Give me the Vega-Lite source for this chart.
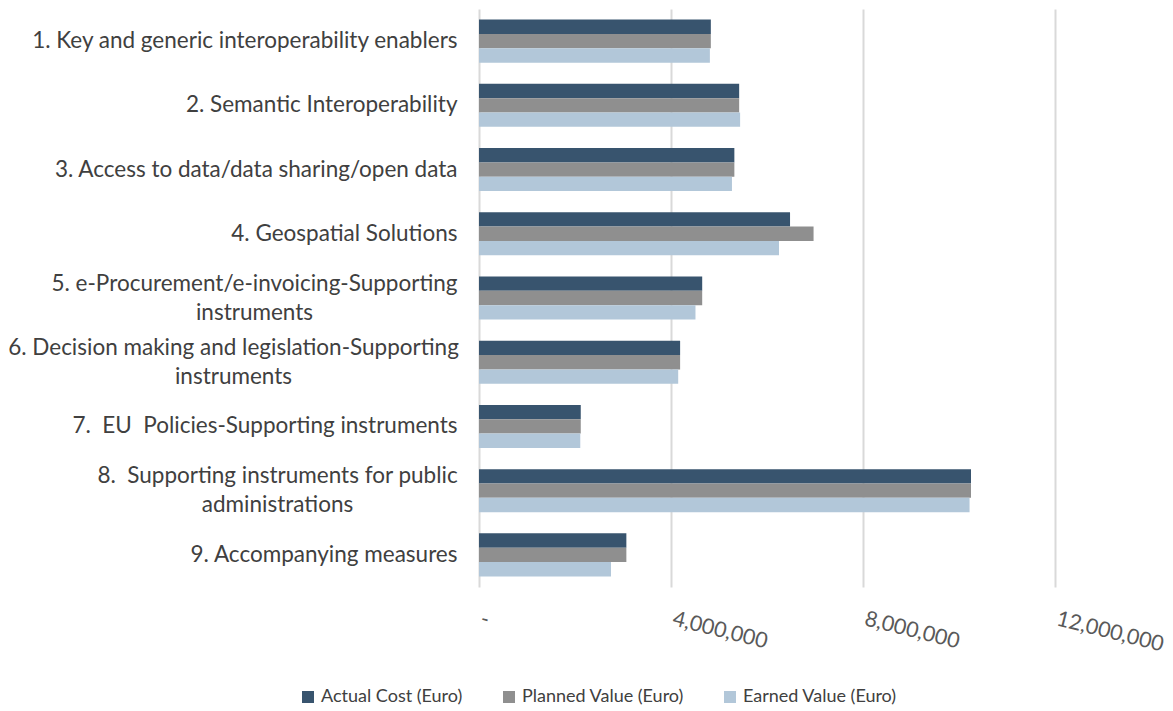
{
  "$schema": "https://vega.github.io/schema/vega-lite/v6.json",
  "width": 576,
  "height": 578,
  "autosize": {"type": "none"},
  "padding": {"left": 479, "top": 9, "right": 118, "bottom": 124},
  "background": "white",
  "config": {
    "view": {"stroke": null},
    "font": "Lato"
  },
  "data": {
    "values": [
      {"cat": "1. Key and generic interoperability enablers", "series": "Actual Cost (Euro)", "value": 4830000},
      {"cat": "1. Key and generic interoperability enablers", "series": "Planned Value (Euro)", "value": 4830000},
      {"cat": "1. Key and generic interoperability enablers", "series": "Earned Value (Euro)", "value": 4810000},
      {"cat": "2. Semantic Interoperability", "series": "Actual Cost (Euro)", "value": 5420000},
      {"cat": "2. Semantic Interoperability", "series": "Planned Value (Euro)", "value": 5420000},
      {"cat": "2. Semantic Interoperability", "series": "Earned Value (Euro)", "value": 5440000},
      {"cat": "3. Access to data/data sharing/open data", "series": "Actual Cost (Euro)", "value": 5320000},
      {"cat": "3. Access to data/data sharing/open data", "series": "Planned Value (Euro)", "value": 5320000},
      {"cat": "3. Access to data/data sharing/open data", "series": "Earned Value (Euro)", "value": 5270000},
      {"cat": "4. Geospatial Solutions", "series": "Actual Cost (Euro)", "value": 6480000},
      {"cat": "4. Geospatial Solutions", "series": "Planned Value (Euro)", "value": 6970000},
      {"cat": "4. Geospatial Solutions", "series": "Earned Value (Euro)", "value": 6250000},
      {"cat": "5. e-Procurement/e-invoicing-Supporting|instruments", "series": "Actual Cost (Euro)", "value": 4650000},
      {"cat": "5. e-Procurement/e-invoicing-Supporting|instruments", "series": "Planned Value (Euro)", "value": 4650000},
      {"cat": "5. e-Procurement/e-invoicing-Supporting|instruments", "series": "Earned Value (Euro)", "value": 4510000},
      {"cat": "6. Decision making and legislation-Supporting|instruments", "series": "Actual Cost (Euro)", "value": 4190000},
      {"cat": "6. Decision making and legislation-Supporting|instruments", "series": "Planned Value (Euro)", "value": 4190000},
      {"cat": "6. Decision making and legislation-Supporting|instruments", "series": "Earned Value (Euro)", "value": 4150000},
      {"cat": "7.\u00a0 EU\u00a0 Policies-Supporting instruments", "series": "Actual Cost (Euro)", "value": 2120000},
      {"cat": "7.\u00a0 EU\u00a0 Policies-Supporting instruments", "series": "Planned Value (Euro)", "value": 2120000},
      {"cat": "7.\u00a0 EU\u00a0 Policies-Supporting instruments", "series": "Earned Value (Euro)", "value": 2110000},
      {"cat": "8.\u00a0 Supporting instruments for public|administrations", "series": "Actual Cost (Euro)", "value": 10250000},
      {"cat": "8.\u00a0 Supporting instruments for public|administrations", "series": "Planned Value (Euro)", "value": 10250000},
      {"cat": "8.\u00a0 Supporting instruments for public|administrations", "series": "Earned Value (Euro)", "value": 10220000},
      {"cat": "9. Accompanying measures", "series": "Actual Cost (Euro)", "value": 3070000},
      {"cat": "9. Accompanying measures", "series": "Planned Value (Euro)", "value": 3070000},
      {"cat": "9. Accompanying measures", "series": "Earned Value (Euro)", "value": 2750000}
    ]
  },
  "mark": {"type": "bar"},
  "encoding": {
    "y": {
      "field": "cat",
      "type": "nominal",
      "sort": null,
      "title": null,
      "scale": {"paddingInner": 0.33, "paddingOuter": 0.165},
      "axis": {
        "domain": false,
        "ticks": false,
        "labelFontSize": 22.5,
        "labelColor": "#404040",
        "labelLimit": 520,
        "labelLineHeight": 29,
        "labelExpr": "split(datum.label, '|')",
        "labelAlign": {
          "condition": {"test": "indexof(datum.value, '|') >= 0", "value": "center"},
          "value": "right"
        },
        "labelPadding": {
          "condition": [
            {"test": "indexof(datum.value, '5.') == 0", "value": 225},
            {"test": "indexof(datum.value, '6.') == 0", "value": 246},
            {"test": "indexof(datum.value, '8.') == 0", "value": 202}
          ],
          "value": 22
        },
        "labelOffset": {
          "condition": {"test": "indexof(datum.value, '|') >= 0", "value": -14.5},
          "value": 0
        }
      }
    },
    "yOffset": {
      "field": "series",
      "type": "nominal",
      "sort": ["Actual Cost (Euro)", "Planned Value (Euro)", "Earned Value (Euro)"]
    },
    "x": {
      "field": "value",
      "type": "quantitative",
      "title": null,
      "scale": {"domain": [0, 12000000], "nice": false},
      "axis": {
        "values": [0, 4000000, 8000000, 12000000],
        "domain": false,
        "ticks": false,
        "grid": true,
        "gridColor": "#d9d9d9",
        "gridWidth": 2,
        "labelAngle": 14,
        "labelAlign": "left",
        "labelBaseline": "top",
        "labelPadding": 21,
        "labelOffset": 4,
        "labelFontSize": 21.5,
        "labelColor": "#595959",
        "labelExpr": "datum.value == 0 ? '-' : format(datum.value, ',')"
      }
    },
    "color": {
      "field": "series",
      "type": "nominal",
      "sort": ["Actual Cost (Euro)", "Planned Value (Euro)", "Earned Value (Euro)"],
      "scale": {
        "domain": ["Actual Cost (Euro)", "Planned Value (Euro)", "Earned Value (Euro)"],
        "range": ["#38546e", "#8f8f8f", "#b2c7d9"]
      },
      "legend": {
        "title": null,
        "orient": "none",
        "direction": "horizontal",
        "legendX": -180,
        "legendY": 679,
        "symbolType": "square",
        "symbolSize": 144,
        "symbolStrokeWidth": 0,
        "labelFontSize": 18,
        "labelLimit": 300,
        "labelColor": "#404040",
        "columnPadding": 37,
        "labelOffset": 4
      }
    }
  }
}
